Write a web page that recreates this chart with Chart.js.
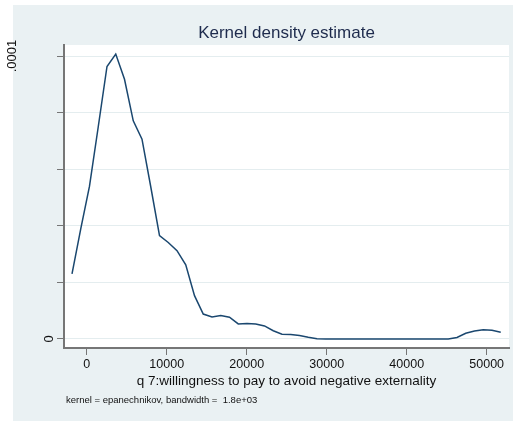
<!DOCTYPE html>
<html>
<head>
<meta charset="utf-8">
<title>Kernel density estimate</title>
<script src="https://cdn.jsdelivr.net/npm/chart.js@4/dist/chart.umd.min.js"></script>
<style>
  html, body { margin: 0; padding: 0; background: #ffffff; }
  canvas { display: block; }
</style>
</head>
<body>
<canvas id="kd" width="513" height="421"></canvas>
<script>
// Evaluation grid (q 7: willingness to pay) and estimated density at each point
const gridX = [-1838, -744, 350, 1444, 2537, 3631, 4725, 5819, 6912, 8006,
  9100, 10194, 11287, 12381, 13475, 14569, 15662, 16756, 17850, 18944,
  20037, 21131, 22225, 23319, 24412, 25506, 26600, 27694, 28787, 29881,
  30975, 32069, 33162, 34256, 35350, 36444, 37537, 38631, 39725, 40819,
  41912, 43006, 44100, 45194, 46287, 47381, 48475, 49569, 50662, 51756];

const density = [2.30e-5, 3.89e-5, 5.40e-5, 7.50e-5, 9.63e-5, 1.007e-4, 9.18e-5, 7.71e-5, 7.06e-5, 5.38e-5,
  3.65e-5, 3.41e-5, 3.12e-5, 2.62e-5, 1.53e-5, 8.8e-6, 7.8e-6, 8.3e-6, 7.7e-6, 5.3e-6,
  5.5e-6, 5.3e-6, 4.6e-6, 2.9e-6, 1.7e-6, 1.6e-6, 1.2e-6, 6e-7, 1e-7, 0,
  0, 0, 0, 0, 0, 0, 0, 0, 0, 0,
  0, 0, 0, 0, 5e-7, 2.0e-6, 2.8e-6, 3.25e-6, 3.1e-6, 2.4e-6];

const xTicks = [0, 10000, 20000, 30000, 40000, 50000];
const yTicks = [0, 0.00002, 0.00004, 0.00006, 0.00008, 0.0001];
const yLabelled = [0, 0.0001];

const titleText = 'Kernel density estimate';
const xTitleText = 'q 7:willingness to pay to avoid negative externality';
const noteText = 'kernel = epanechnikov, bandwidth =  1.8e+03';

const FONT = '"Liberation Sans", Arial, sans-serif';
const AXIS_GREY = '#767676';
const GRID = '#E4EDEF';
const REGION = '#EAF1F3';

const points = gridX.map((x, i) => ({ x: x, y: density[i] }));

// Graph region, plot region and all the free-standing text
const stataLook = {
  id: 'stataLook',
  beforeDraw(chart) {
    const { ctx, chartArea: a } = chart;
    ctx.save();
    ctx.fillStyle = '#ffffff';
    ctx.fillRect(0, 0, chart.width, chart.height);
    ctx.fillStyle = REGION;
    ctx.fillRect(13, 5, chart.width - 13, chart.height - 5);
    ctx.fillStyle = '#ffffff';
    ctx.fillRect(a.left, a.top, a.right - a.left, a.bottom - a.top);
    ctx.restore();
  },
  afterDraw(chart) {
    const { ctx, chartArea: a } = chart;
    const ys = chart.scales.y;
    const cx = (a.left + a.right) / 2;
    ctx.save();
    // title
    ctx.fillStyle = '#1E2B4D';
    ctx.font = '17px ' + FONT;
    ctx.textAlign = 'center';
    ctx.textBaseline = 'middle';
    ctx.fillText(titleText, cx, 33);
    // x axis title
    ctx.fillStyle = '#111111';
    ctx.font = '13.5px ' + FONT;
    ctx.fillText(xTitleText, cx, 381);
    // note
    ctx.font = '9.5px ' + FONT;
    ctx.textAlign = 'left';
    ctx.fillText(noteText, 66, 400);
    // vertical y labels
    ctx.font = '13px ' + FONT;
    ctx.textAlign = 'center';
    yLabelled.forEach(v => {
      const y = ys.getPixelForValue(v);
      const x = v === 0 ? 49 : 12;
      ctx.save();
      ctx.translate(x, y);
      ctx.rotate(-Math.PI / 2);
      ctx.fillText(v === 0 ? '0' : '.0001', 0, 0);
      ctx.restore();
    });
    ctx.restore();
  }
};

new Chart(document.getElementById('kd'), {
  type: 'scatter',
  data: {
    datasets: [{
      data: points,
      showLine: true,
      borderColor: '#1A476F',
      borderWidth: 1.5,
      pointRadius: 0,
      tension: 0,
      fill: false
    }]
  },
  options: {
    responsive: false,
    animation: false,
    devicePixelRatio: 1,
    layout: { padding: { left: 0, top: 45, right: 4, bottom: 0 } },
    plugins: { legend: { display: false }, tooltip: { enabled: false }, title: { display: false } },
    scales: {
      x: {
        type: 'linear',
        min: -2838,
        max: 52788,
        afterBuildTicks(s) { s.ticks = xTicks.map(v => ({ value: v })); },
        afterFit(s) { s.height = 73; },
        grid: { display: true, drawOnChartArea: false, drawTicks: true, tickLength: 7, tickColor: AXIS_GREY, tickWidth: 1 },
        border: { display: true, color: AXIS_GREY, width: 2 },
        ticks: {
          color: '#111111',
          font: { family: FONT, size: 12.5 },
          padding: 2,
          maxRotation: 0,
          callback: v => String(v)
        }
      },
      y: {
        type: 'linear',
        min: -0.0000032,
        max: 0.0001039,
        afterBuildTicks(s) { s.ticks = yTicks.map(v => ({ value: v })); },
        afterFit(s) { s.width = 64; },
        grid: { display: true, drawOnChartArea: true, drawTicks: true, tickLength: 7, color: GRID, tickColor: AXIS_GREY, lineWidth: 1 },
        border: { display: true, color: AXIS_GREY, width: 2 },
        ticks: { display: false }
      }
    }
  },
  plugins: [stataLook]
});
</script>
</body>
</html>
